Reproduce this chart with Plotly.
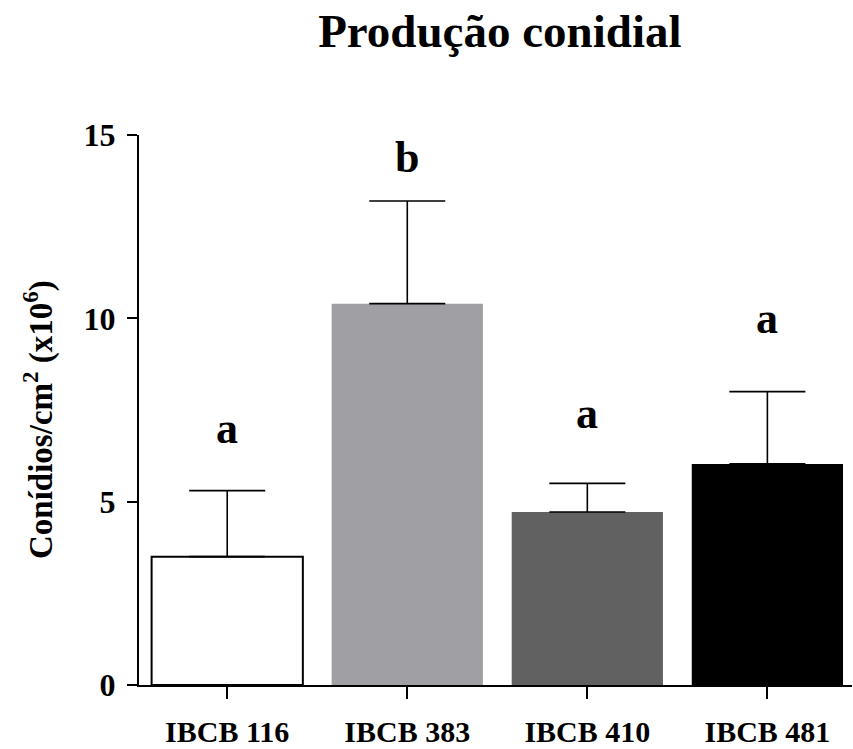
import plotly.graph_objects as go

categories = ["IBCB 116", "IBCB 383", "IBCB 410", "IBCB 481"]
means = [3.5, 10.4, 4.72, 6.03]
err_up = [1.8, 2.8, 0.78, 1.97]
letters = ["a", "b", "a", "a"]
letter_y = [7.0, 14.4, 7.4, 10.0]
y_ticks = [0, 5, 10, 15]

colors = ["#ffffff", "#a0a0a4", "#616161", "#000000"]
line_w = [2, 0, 0, 0]

FONT = "Liberation Serif"
W, H = 853, 749
ML, MR, MT, MB = 139, 1, 135, 64

fig = go.Figure()
fig.add_trace(go.Bar(
    x=categories, y=means,
    marker=dict(color=colors, line=dict(color="#000000", width=line_w)),
    error_y=dict(type="data", symmetric=False, array=err_up,
                 arrayminus=[0] * len(means), color="#000000",
                 thickness=1.6, width=38),
    showlegend=False,
))

for c, t, yy in zip(categories, letters, letter_y):
    fig.add_annotation(x=c, y=yy, text="<b>%s</b>" % t, showarrow=False,
                       font=dict(family=FONT, size=44, color="#000000"),
                       xanchor="center", yanchor="middle")

# y-axis title as rotated annotation
fig.add_annotation(
    xref="paper", yref="paper",
    x=(38 - ML) / (W - ML - MR), y=(H - MB - 420) / (H - MT - MB),
    text="<b>Conídios/cm<sup>2</sup> (x10<sup>6</sup>)</b>", textangle=-90,
    showarrow=False, xanchor="center", yanchor="middle",
    font=dict(family=FONT, size=33, color="#000000"),
)

fig.update_layout(
    width=W, height=H,
    margin=dict(l=ML, r=MR, t=MT, b=MB, autoexpand=False),
    paper_bgcolor="#ffffff", plot_bgcolor="#ffffff",
    bargap=0.16,
    title=dict(text="<b>Produção conidial</b>", x=0.586, xanchor="center",
               y=1 - 31 / H, yanchor="middle", xref="container",
               font=dict(family=FONT, size=47, color="#000000")),
    font=dict(family=FONT, color="#000000"),
)
fig.update_xaxes(
    range=[-0.49, 3.47], showline=True, linewidth=2, linecolor="#000000",
    ticks="outside", ticklen=12, tickwidth=1.5, tickcolor="#000000",
    tickfont=dict(family=FONT, size=30, color="#000000"),
    tickprefix="<b>", ticksuffix="</b>", ticklabelstandoff=7,
    showgrid=False, zeroline=False, automargin=False,
)
fig.update_yaxes(
    range=[0, 15], tickvals=y_ticks, ticktext=["<b>%d</b>" % v for v in y_ticks],
    showline=True, linewidth=2, linecolor="#000000",
    ticks="outside", ticklen=10, tickwidth=2, tickcolor="#000000",
    tickfont=dict(family=FONT, size=32, color="#000000"), ticklabelstandoff=5,
    showgrid=False, zeroline=False, automargin=False,
)

fig.write_html("out.html", config={"displayModeBar": False},
               post_script="document.body.style.margin='0';document.body.style.padding='0';")
